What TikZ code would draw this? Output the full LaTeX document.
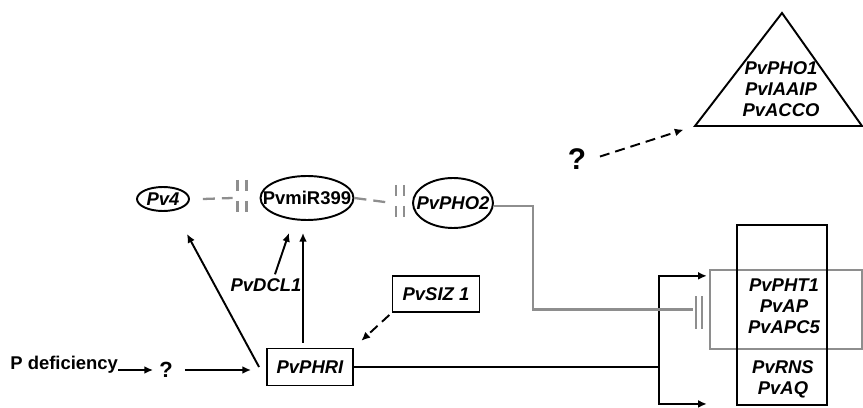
\documentclass[tikz,border=0pt]{standalone}
\usepackage{fontspec}
\setmainfont{Liberation Sans}
\usetikzlibrary{arrows.meta, positioning, shapes.geometric, calc}
\definecolor{inhgray}{HTML}{8E8E8E}
\newcommand{\lbl}{\fontsize{10.5}{12}\selectfont\bfseries}
\newcommand{\qlow}{\fontsize{12.5}{13}\selectfont\bfseries}
\newcommand{\qtop}{\fontsize{17}{17}\selectfont\bfseries}

\begin{document}
\begin{tikzpicture}[x=0.02cm, y=-0.02cm,
    oval/.style={draw, ellipse, line width=1.1pt, inner sep=0pt},
    genebox/.style={draw, line width=1.1pt, inner sep=0pt},
    act/.style={-{Latex[length=5pt, width=4.5pt]}, line width=1.1pt},
    inh/.style={inhgray, line width=1.3pt},
    inhdash/.style={inh, dash pattern=on 0.24cm off 0.14cm},
    bardash/.style={inh, dash pattern=on 0.22cm off 0.2cm},
    dasharrow/.style={act, dash pattern=on 0.2cm off 0.12cm},
]
    \useasboundingbox (0,0) rectangle (863,408);

    % miR399 axis
    \node[oval, minimum width=1.04cm, minimum height=0.48cm, label={[font=\lbl\itshape]center:Pv4}] (pv4) at (163,199) {};
    \node[oval, minimum width=1.86cm, minimum height=0.88cm, label={[font=\lbl]center:PvmiR399}] (mir) at (307,198) {};
    \node[oval, minimum width=1.6cm, minimum height=1.0cm, label={[font=\lbl\itshape]center:PvPHO2}] (pho2) at (453,203) {};

    % Regulators
    \node[genebox, minimum width=1.72cm, minimum height=0.74cm, font=\lbl\itshape] (phr) at (310,367) {PvPHRI};
    \node[genebox, minimum width=1.74cm, minimum height=0.72cm, font=\lbl\itshape] (siz) at (436,294) {PvSIZ 1};
    \node[font=\lbl\itshape] (dcl) at (266,285) {PvDCL1};

    % Input signal
    \node[font=\lbl, anchor=base west, inner sep=0pt] (pdef) at (10,370) {P deficiency};
    \node[font=\qlow] (qin) at (166,370) {?};
    \draw[act] (pdef.base east) -- (pdef.base east -| qin.west);
    \draw[act, shorten <=0.12cm, shorten >=0.3cm] (qin.east) -- (qin.east -| phr.west);

    % Targets
    \node[draw=inhgray, line width=1.3pt, minimum width=3.04cm, minimum height=1.58cm] (grp) at (786,309.5) {};
    \node[draw, line width=1.1pt, minimum width=1.8cm, minimum height=3.6cm] (tgt) at (782,315) {};
    \node[font=\lbl\itshape, align=center] (pht) at (784,306) {PvPHT1\\PvAP\\PvAPC5};
    \node[font=\lbl\itshape, align=center] (rns) at (783,379) {PvRNS\\PvAQ};

    % Triangle of other targets
    \coordinate (triL) at (695,126);
    \coordinate (triT) at (782,13);
    \coordinate (triR) at (862,126);
    \draw[line width=1.1pt, line join=miter] (triL) -- (triT) -- (triR) -- cycle;
    \node[font=\lbl\itshape, align=center] (tri) at (781,89) {PvPHO1\\PvIAAIP\\PvACCO};
    \node[font=\qtop] (qtop) at (577,159) {?};
    \draw[dasharrow, shorten <=0.16cm, shorten >=0.24cm] (qtop.east) -- (triL);

    % Arrows out of PvPHRI
    \draw[act] ([xshift=-0.14cm]phr.west) -- ([xshift=0.48cm, yshift=-0.44cm]pv4.south);
    \draw[act, shorten <=0.1cm, shorten >=0.24cm] ([xshift=-0.14cm]phr.north) -- ([xshift=-0.14cm]phr.north |- mir.south);
    \draw[act] ([xshift=0.18cm, yshift=-0.04cm]dcl.north) -- ([xshift=-0.36cm, yshift=-0.24cm]mir.south);
    \draw[dasharrow, shorten <=0.06cm, shorten >=0.2cm] (siz.south west) -- (phr.north east);

    \coordinate (split) at ($(phr.east -| grp.west)+(-50,0)$);
    \draw[line width=1.1pt] (phr.east) -- (split);
    \draw[act, shorten >=0.04cm] (split) |- ([yshift=-0.14cm]grp.north west);
    \draw[act, shorten >=0.04cm] (split) |- ([yshift=0.04cm]tgt.south -| grp.west);

    % Inhibitions
    \draw[inhdash] ([xshift=0.26cm]pv4.east) -- ([xshift=-0.54cm]mir.west);
    \draw[bardash] ([xshift=-0.44cm, yshift=0.36cm]mir.west) -- ++(0,33);
    \draw[bardash] ([xshift=-0.26cm, yshift=0.36cm]mir.west) -- ++(0,33);
    \draw[inhdash] (mir.east) -- ([xshift=-0.4cm]pho2.west);
    \draw[bardash] ([xshift=-0.32cm, yshift=0.36cm]pho2.west) -- ++(0,33);
    \draw[bardash] ([xshift=-0.16cm, yshift=0.36cm]pho2.west) -- ++(0,33);

    \coordinate (phoend) at ([xshift=-0.32cm]grp.west);
    \draw[inh] ([yshift=-0.06cm]pho2.east) -- ++(39,0) |- (phoend);
    \draw[inh] ([xshift=0.06cm, yshift=0.26cm]phoend) -- ++(0,33);
    \draw[inh] ([xshift=0.18cm, yshift=0.26cm]phoend) -- ++(0,33);
\end{tikzpicture}
\end{document}
